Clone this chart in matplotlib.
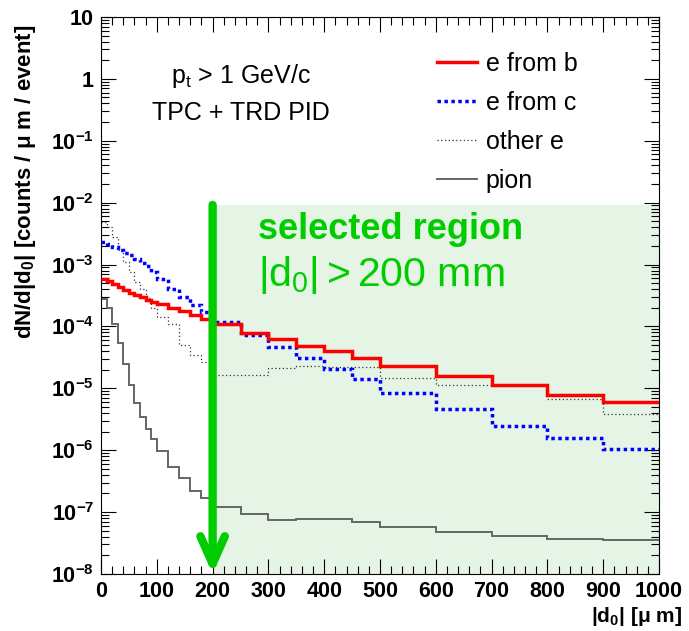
import numpy as np
import matplotlib
matplotlib.use('Agg')
import matplotlib.pyplot as plt
from matplotlib.ticker import LogLocator, FuncFormatter, MultipleLocator, NullFormatter
from matplotlib.lines import Line2D

plt.rcParams['font.family'] = ['Liberation Sans', 'DejaVu Sans']
plt.rcParams['mathtext.fontset'] = 'custom'
plt.rcParams['mathtext.rm'] = 'Liberation Sans'
plt.rcParams['mathtext.it'] = 'Liberation Sans:italic'
plt.rcParams['mathtext.bf'] = 'Liberation Sans:bold'

# bin edges in um (variable width)
edges = [0, 10, 20, 30, 40, 50, 60, 70, 80, 90, 100,
         120, 140, 160, 180, 200,
         250, 300, 350, 400, 450, 500,
         600, 700, 800, 900, 1000]

e_from_b = [5.8e-4, 5.4e-4, 4.9e-4, 4.4e-4, 3.9e-4, 3.5e-4, 3.2e-4, 2.96e-4, 2.68e-4, 2.46e-4,
            2.31e-4, 2.0e-4, 1.78e-4, 1.53e-4, 1.32e-4,
            1.08e-4, 7.9e-5, 6.2e-5, 4.8e-5, 4.0e-5, 3.1e-5,
            2.3e-5, 1.6e-5, 1.12e-5, 7.9e-6, 6.0e-6]

e_from_c = [2.28e-3, 2.15e-3, 1.94e-3, 1.72e-3, 1.56e-3, 1.41e-3, 1.23e-3, 1.05e-3, 9.4e-4, 7.7e-4,
            5.85e-4, 4.1e-4, 2.96e-4, 2.22e-4, 1.74e-4,
            1.17e-4, 7.3e-5, 4.7e-5, 3.06e-5, 2.09e-5, 1.4e-5,
            8.4e-6, 4.6e-6, 2.5e-6, 1.58e-6, 1.04e-6]

other_e = [4.8e-3, 4.1e-3, 2.8e-3, 1.72e-3, 1.11e-3, 7.7e-4, 5.3e-4, 4.1e-4, 2.85e-4, 1.97e-4,
           1.44e-4, 1.1e-4, 5.0e-5, 3.45e-5, 2.7e-5,
           1.62e-5, 1.65e-5, 2.1e-5, 2.3e-5, 2.2e-5, 2.2e-5,
           1.45e-5, 1.12e-5, 1.1e-5, 6.8e-6, 3.9e-6]

pion = [2.75e-4, 1.97e-4, 1.1e-4, 5.4e-5, 2.5e-5, 1.15e-5, 5.8e-6, 3.4e-6, 2.2e-6, 1.5e-6,
        9.8e-7, 5.4e-7, 3.5e-7, 2.2e-7, 1.7e-7,
        1.23e-7, 9.2e-8, 7.5e-8, 7.7e-8, 7.7e-8, 6.8e-8,
        5.7e-8, 4.7e-8, 4.1e-8, 3.7e-8, 3.5e-8]

cut = 200
region_top = 9.2e-3
green = '#00cc00'

fig = plt.figure(figsize=(6.89, 6.31), dpi=100)
ax = fig.add_axes([0.1466, 0.0903, 0.8099, 0.8828])

# selected region shading
ax.fill_between([cut, edges[-1]], 1e-8, region_top, color='#e5f4e5', lw=0, zorder=0)

ax.stairs(other_e, edges, color='#333333', lw=0.9, ls=(0, (1, 2)), baseline=None, zorder=2)
ax.stairs(pion, edges, color='#666666', lw=1.4, baseline=None, zorder=2)
ax.stairs(e_from_c, edges, color='#0000ff', lw=2.5, ls=(0, (1, 1)), baseline=None, zorder=3)
ax.stairs(e_from_b, edges, color='#ff0000', lw=2.5, baseline=None, zorder=3)

# legend (manual handles)
handles = [Line2D([], [], color='#ff0000', lw=2.5),
           Line2D([], [], color='#0000ff', lw=2.5, ls=(0, (1, 1))),
           Line2D([], [], color='#333333', lw=0.9, ls=(0, (1, 2))),
           Line2D([], [], color='#666666', lw=1.4)]
labels = ['e from b', 'e from c', 'other e', 'pion']
leg = ax.legend(handles, labels, loc='upper left', bbox_to_anchor=(0.584, 0.955),
                frameon=False, fontsize=18, handlelength=1.6, handletextpad=0.36,
                labelspacing=0.6, borderaxespad=0)

ax.text(0.25, 0.894, r'p$_\mathregular{t}$ > 1 GeV/c', transform=ax.transAxes,
        ha='center', va='center', fontsize=18)
ax.text(0.25, 0.828, 'TPC + TRD PID', transform=ax.transAxes,
        ha='center', va='center', fontsize=18)

ax.text(0.282, 0.618, 'selected region', transform=ax.transAxes, color=green,
        fontsize=26, fontweight='bold', ha='left', va='center')
ax.text(0.282, 0.537, r'$|\mathrm{d}_0| > 200$ mm', transform=ax.transAxes, color=green,
        fontsize=29.5, ha='left', va='center')

# arrow marking the cut
ax.annotate('', xy=(cut, 1e-8), xytext=(cut, region_top),
            arrowprops=dict(arrowstyle='->,head_length=0.9,head_width=0.4', lw=6,
                            color=green, shrinkA=0, shrinkB=0, mutation_scale=22),
            zorder=5)

ax.set_yscale('log')
ax.set_xlim(0, 1000)
ax.set_ylim(1e-8, 10)

ax.xaxis.set_major_locator(MultipleLocator(100))
ax.xaxis.set_minor_locator(MultipleLocator(20))
ax.yaxis.set_major_locator(LogLocator(base=10, numticks=20))
ax.yaxis.set_minor_locator(LogLocator(base=10, subs=np.arange(2, 10), numticks=20))
ax.yaxis.set_minor_formatter(NullFormatter())


def yfmt(v, pos):
    e = int(round(np.log10(v)))
    if e == 1:
        return r'$\mathbf{10}$'
    if e == 0:
        return r'$\mathbf{1}$'
    return r'$\mathbf{10^{%d}}$' % e


ax.yaxis.set_major_formatter(FuncFormatter(yfmt))

ax.tick_params(which='both', direction='in', top=True, right=True, width=0.8)
ax.tick_params(which='major', length=11, labelsize=15.5, pad=5)
ax.tick_params(which='minor', length=5.5)
for lab in ax.get_xticklabels():
    lab.set_fontweight('bold')

ax.set_ylabel(r'dN/d|d$_\mathbf{0}$| [counts / μ m / event]', fontsize=16,
              fontweight='bold', loc='top')
ax.yaxis.set_label_coords(-0.113, 0.986)
ax.text(1.041, -0.077, r'|d$_\mathbf{0}$| [μ m]', transform=ax.transAxes, ha='right',
        va='center', fontsize=15, fontweight='bold')

fig.savefig('out.png', dpi=100)
